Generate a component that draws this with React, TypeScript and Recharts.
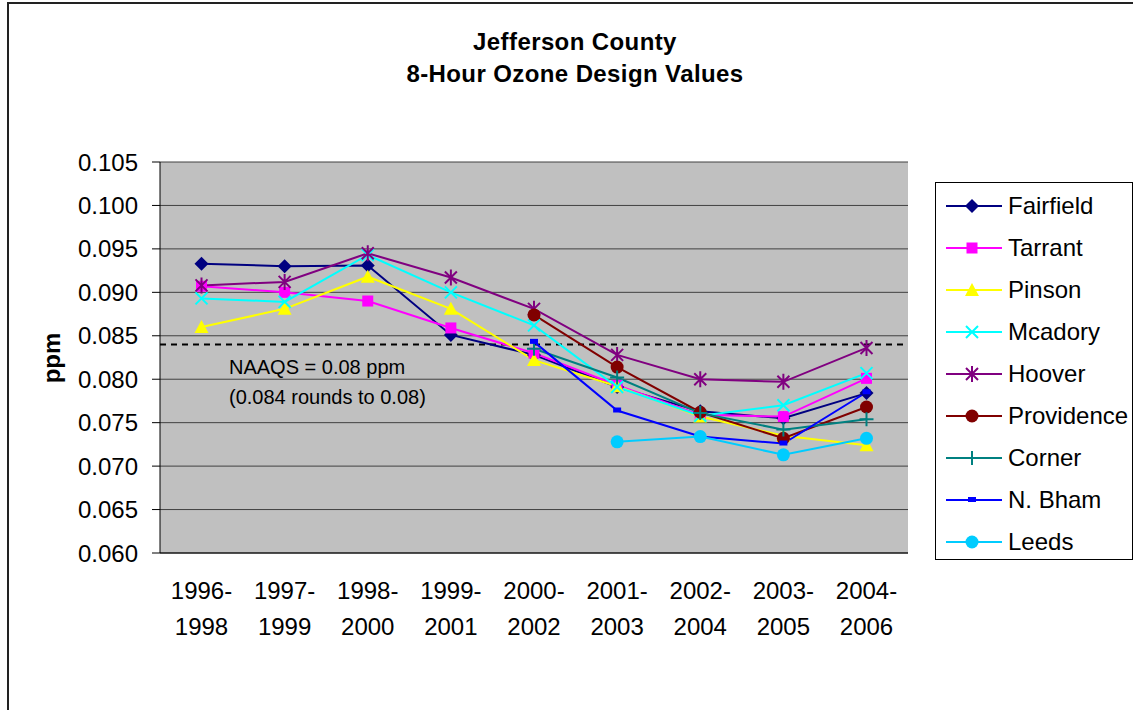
import React from "react";
import {
  LineChart,
  Line,
  XAxis,
  YAxis,
  CartesianGrid,
  ReferenceLine,
} from "recharts";

// categories (3-year design value periods)
const periods = [
  "1996-1998",
  "1997-1999",
  "1998-2000",
  "1999-2001",
  "2000-2002",
  "2001-2003",
  "2002-2004",
  "2003-2005",
  "2004-2006",
];

// design values per monitor, ppm (null = no data for that period)
const fairfield = [0.0933, 0.093, 0.0931, 0.0851, 0.0828, 0.0791, 0.0763, 0.0755, 0.0784];
const tarrant = [0.0907, 0.09, 0.089, 0.0859, 0.083, 0.0793, 0.0759, 0.0757, 0.0801];
const pinson = [0.086, 0.0881, 0.0918, 0.0881, 0.0822, 0.0792, 0.0757, 0.0735, 0.0724];
const mcadory = [0.0893, 0.0889, 0.0943, 0.09, 0.0862, 0.0791, 0.0758, 0.077, 0.0807];
const hoover = [0.0908, 0.0912, 0.0945, 0.0917, 0.0881, 0.0828, 0.08, 0.0797, 0.0836];
const providence = [null, null, null, null, 0.0874, 0.0814, 0.0762, 0.0732, 0.0768];
const corner = [null, null, null, null, 0.0835, 0.0802, 0.0761, 0.0742, 0.0754];
const nBham = [null, null, null, null, 0.0843, 0.0764, 0.0734, 0.0726, 0.0785];
const leeds = [null, null, null, null, null, 0.0728, 0.0734, 0.0713, 0.0732];

const yTicks = [0.06, 0.065, 0.07, 0.075, 0.08, 0.085, 0.09, 0.095, 0.1, 0.105];
const naaqs = 0.084;

type Shape = "diamond" | "square" | "triangle" | "x" | "star" | "circle" | "plus" | "dash";

const series: { key: string; name: string; color: string; shape: Shape; values: (number | null)[] }[] = [
  { key: "fairfield", name: "Fairfield", color: "#000080", shape: "diamond", values: fairfield },
  { key: "tarrant", name: "Tarrant", color: "#FF00FF", shape: "square", values: tarrant },
  { key: "pinson", name: "Pinson", color: "#FFFF00", shape: "triangle", values: pinson },
  { key: "mcadory", name: "Mcadory", color: "#00FFFF", shape: "x", values: mcadory },
  { key: "hoover", name: "Hoover", color: "#800080", shape: "star", values: hoover },
  { key: "providence", name: "Providence", color: "#800000", shape: "circle", values: providence },
  { key: "corner", name: "Corner", color: "#008080", shape: "plus", values: corner },
  { key: "nbham", name: "N. Bham", color: "#0000FF", shape: "dash", values: nBham },
  { key: "leeds", name: "Leeds", color: "#00CCFF", shape: "circle", values: leeds },
];

const data = periods.map((p, i) => {
  const row: Record<string, any> = { period: p };
  series.forEach((s) => (row[s.key] = s.values[i]));
  return row;
});

const FONT = "'Liberation Sans', Arial, sans-serif";

function Marker({ cx, cy, shape, color }: { cx: number; cy: number; shape: Shape; color: string }) {
  switch (shape) {
    case "diamond":
      return <path d={`M${cx},${cy - 7}L${cx + 7},${cy}L${cx},${cy + 7}L${cx - 7},${cy}Z`} fill={color} />;
    case "square":
      return <rect x={cx - 5.5} y={cy - 5.5} width={11} height={11} fill={color} />;
    case "triangle":
      return <path d={`M${cx},${cy - 7}L${cx + 7},${cy + 6}L${cx - 7},${cy + 6}Z`} fill={color} />;
    case "x":
      return (
        <path d={`M${cx - 6},${cy - 6}L${cx + 6},${cy + 6}M${cx + 6},${cy - 6}L${cx - 6},${cy + 6}`} stroke={color} strokeWidth={2} />
      );
    case "star":
      return (
        <path
          d={`M${cx - 6},${cy - 6}L${cx + 6},${cy + 6}M${cx + 6},${cy - 6}L${cx - 6},${cy + 6}M${cx},${cy - 8}L${cx},${cy + 8}`}
          stroke={color}
          strokeWidth={2}
        />
      );
    case "circle":
      return <circle cx={cx} cy={cy} r={6.5} fill={color} />;
    case "plus":
      return <path d={`M${cx - 7},${cy}L${cx + 7},${cy}M${cx},${cy - 7}L${cx},${cy + 7}`} stroke={color} strokeWidth={2} />;
    case "dash":
      return <rect x={cx - 4} y={cy - 3} width={8} height={5} fill={color} />;
  }
  return null;
}

const makeDot = (s: (typeof series)[number]) => (props: any) => {
  const { cx, cy, index, value } = props;
  if (cx == null || cy == null || value == null || isNaN(cy)) return <g key={`${s.key}-${index}`} />;
  return (
    <g key={`${s.key}-${index}`}>
      <Marker cx={cx} cy={cy} shape={s.shape} color={s.color} />
    </g>
  );
};

const PeriodTick = (props: any) => {
  const { x, y, payload } = props;
  const [a, b] = String(payload.value).split("-");
  return (
    <g>
      <text x={x} y={y + 38} textAnchor="middle" fontSize={24} fill="#000" fontFamily={FONT}>
        {a}-
      </text>
      <text x={x} y={y + 74} textAnchor="middle" fontSize={24} fill="#000" fontFamily={FONT}>
        {b}
      </text>
    </g>
  );
};

export default function App() {
  return (
    <div style={{ position: "absolute", left: 0, top: 0, width: 1133, height: 710, background: "#fff", overflow: "hidden", fontFamily: FONT }}>
      <div style={{ position: "absolute", left: 7, top: 2, width: 1200, height: 800, borderLeft: "2px solid #222", borderTop: "2px solid #222" }} />
      <div style={{ position: "absolute", left: 0, width: 1150, top: 26, textAlign: "center", fontWeight: "bold", fontSize: 24, lineHeight: "32px", letterSpacing: 0.4 }}>
        Jefferson County
        <br />
        8-Hour Ozone Design Values
      </div>
      <div style={{ position: "absolute", left: 52, top: 358, transform: "translate(-50%, -50%) rotate(-90deg)", fontWeight: "bold", fontSize: 24 }}>
        ppm
      </div>
      <div style={{ position: "absolute", left: 0, top: 0 }}>
        <LineChart width={1133} height={710} data={data} margin={{ top: 162, right: 225, left: 0, bottom: 0 }}>
          <CartesianGrid vertical={false} stroke="#404040" fill="#C0C0C0" fillOpacity={1} xAxisId="cat" yAxisId="v" />
          <XAxis
            xAxisId="edge"
            type="number"
            domain={[0, 9]}
            ticks={[0, 1, 2, 3, 4, 5, 6, 7, 8, 9]}
            height={1}
            tick={false}
            tickSize={8}
            tickLine={{ stroke: "#000" }}
            axisLine={false}
            allowDataOverflow
          />
          <XAxis
            xAxisId="cat"
            dataKey="period"
            height={156}
            padding={{ left: 41.5, right: 41.5 }}
            tick={<PeriodTick />}
            tickLine={false}
            axisLine={false}
            interval={0}
          />
          <YAxis
            yAxisId="v"
            width={160}
            domain={[0.06, 0.105]}
            ticks={yTicks}
            tickFormatter={(v: number) => v.toFixed(3)}
            tick={{ fontSize: 24, fill: "#000", fontFamily: FONT }}
            tickSize={8}
            tickMargin={14}
            tickLine={{ stroke: "#000" }}
            axisLine={{ stroke: "#000" }}
            allowDataOverflow
          />
          <YAxis yAxisId="r" orientation="right" width={0} domain={[0.06, 0.105]} tick={false} tickLine={false} axisLine={{ stroke: "#808080" }} />
          <ReferenceLine xAxisId="cat" yAxisId="v" y={0.06} stroke="#000" strokeWidth={1} />
          <ReferenceLine xAxisId="cat" yAxisId="v" y={naaqs} stroke="#000" strokeWidth={2} strokeDasharray="6 5" />
          {series.map((s) => (
            <Line
              key={s.key}
              xAxisId="cat"
              yAxisId="v"
              dataKey={s.key}
              name={s.name}
              type="linear"
              stroke={s.color}
              strokeWidth={2}
              dot={makeDot(s)}
              activeDot={false}
              isAnimationActive={false}
            />
          ))}
        </LineChart>
      </div>
      <div style={{ position: "absolute", left: 229, top: 352, fontSize: 20, lineHeight: "30px", color: "#000" }}>
        NAAQS = 0.08 ppm
        <br />
        (0.084 rounds to 0.08)
      </div>
      <div style={{ position: "absolute", left: 935, top: 182, width: 196, height: 376, border: "1px solid #000", background: "#fff" }}>
        {series.map((s, i) => (
          <div key={s.key} style={{ position: "absolute", left: 0, top: 11 + i * 42, height: 24, width: 196 }}>
            <svg width={70} height={24} style={{ position: "absolute", left: 0, top: 0 }}>
              <line x1={10} x2={66} y1={12} y2={12} stroke={s.color} strokeWidth={2} />
              <Marker cx={36} cy={12} shape={s.shape} color={s.color} />
            </svg>
            <span style={{ position: "absolute", left: 72, top: -3, fontSize: 24, lineHeight: "30px", whiteSpace: "nowrap" }}>{s.name}</span>
          </div>
        ))}
      </div>
    </div>
  );
}
